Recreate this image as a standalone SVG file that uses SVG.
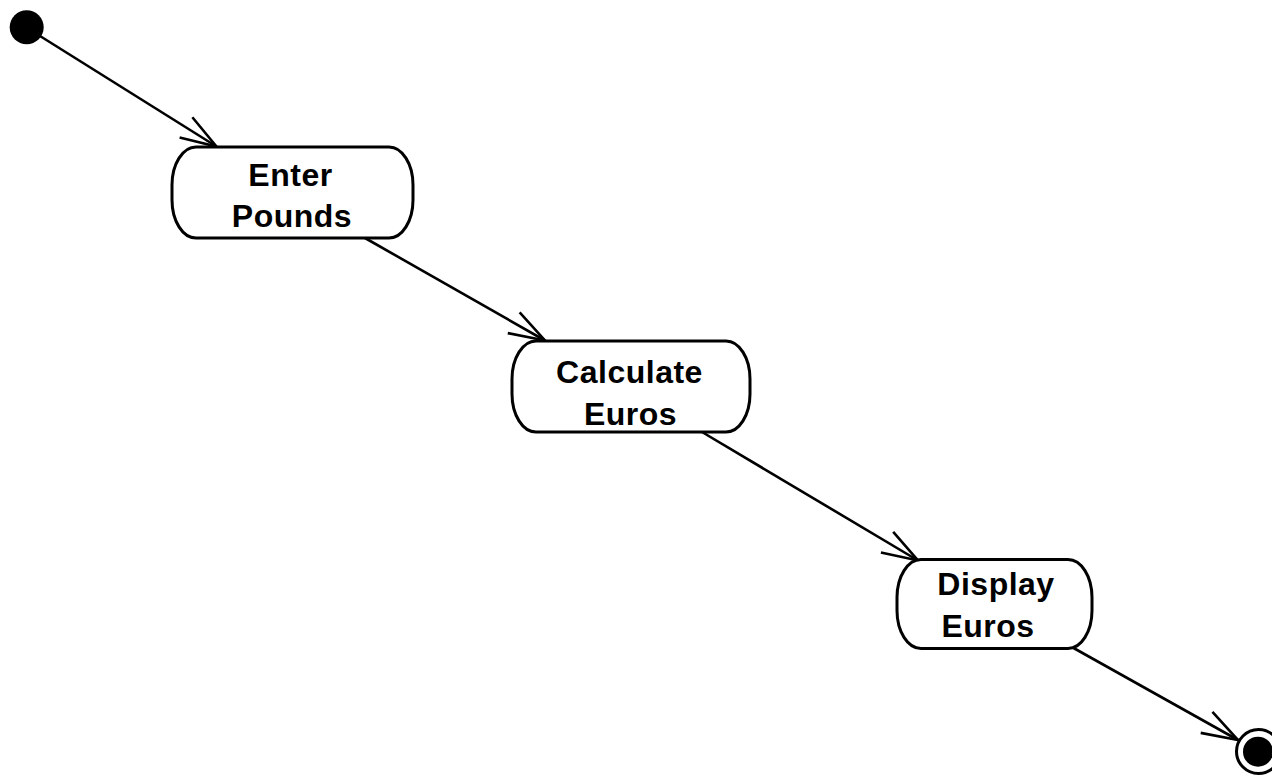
<svg xmlns="http://www.w3.org/2000/svg" width="1272" height="777" viewBox="0 0 1272 777">
<defs>
<style>
.state{fill:#fff;stroke:#000;stroke-width:3}
.lbl{font-family:"Liberation Sans",Arial,sans-serif;font-weight:bold;font-size:32px;letter-spacing:0.5px;text-anchor:middle;fill:#000}
.edge{stroke:#000;stroke-width:2.6;fill:none;marker-end:url(#open)}
</style>
<marker id="open" markerUnits="userSpaceOnUse" markerWidth="50" markerHeight="40" viewBox="-40 -20 50 40" refX="0" refY="0" orient="auto" overflow="visible">
<path d="M-36,-12 L0,0 L-36,12" fill="none" stroke="#000" stroke-width="2.6"/>
</marker>
</defs>
<rect width="1272" height="777" fill="#fff"/>
<g id="connectors">
<line class="edge" x1="40" y1="36" x2="216.5" y2="146.5"/>
<line class="edge" x1="365" y1="238" x2="545" y2="340.5"/>
<line class="edge" x1="702" y1="432" x2="918" y2="560.5"/>
<line class="edge" x1="1070" y1="646" x2="1238" y2="740"/>
</g>
<g id="start">
<circle cx="26.7" cy="27.3" r="17" fill="#000"/>
</g>
<g id="enter-pounds">
<rect class="state" x="172" y="147" width="241" height="91" rx="24" ry="38"/>
<text class="lbl" x="290.5" y="186">Enter</text>
<text class="lbl" x="292" y="227">Pounds</text>
</g>
<g id="calculate-euros">
<rect class="state" x="512" y="341" width="238" height="91" rx="24" ry="38"/>
<text class="lbl" x="629.5" y="383">Calculate</text>
<text class="lbl" x="630.5" y="425">Euros</text>
</g>
<g id="display-euros">
<rect class="state" x="897" y="559.5" width="195" height="89" rx="24" ry="38"/>
<text class="lbl" x="996" y="595">Display</text>
<text class="lbl" x="988" y="637">Euros</text>
</g>
<g id="end">
<circle cx="1258.5" cy="751.5" r="22" fill="#fff" stroke="#000" stroke-width="3"/>
<circle cx="1258" cy="751.7" r="15" fill="#000"/>
</g>
</svg>
